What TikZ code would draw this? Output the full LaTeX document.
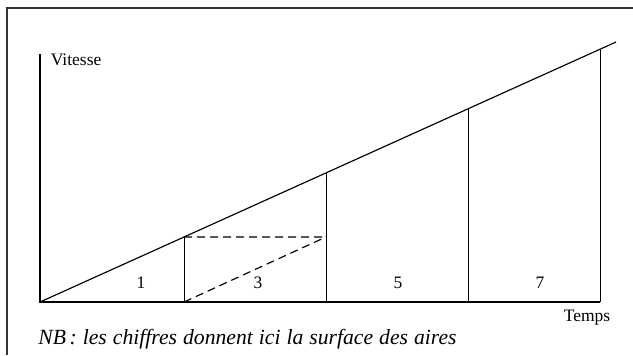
\documentclass[tikz,border=0pt]{standalone}
\usepackage{fontspec}
\setmainfont{Liberation Serif}
\usetikzlibrary{calc}

\begin{document}
\begin{tikzpicture}[x=0.6pt,y=-0.6pt,font=\fontsize{10.5}{12}\selectfont]
\useasboundingbox (0,0) rectangle (633,355);
\draw[line width=1pt,black!80] (7,355)--(7,8)--(633,8);
\coordinate (O) at (40,302); \coordinate (Y) at (40,54); \coordinate (E) at (616,42);
\coordinate (T1) at (184,302); \coordinate (T2) at (326,302); \coordinate (T3) at (468,302); \coordinate (T4) at (600,302);
\coordinate (V1) at (184,237); \coordinate (V2) at (326,173); \coordinate (V3) at (468,109); \coordinate (V4) at (600,50);
\draw[line width=0.7pt] (Y)--(O)--(T4);
\draw[line width=0.7pt] (O)--(E);
\foreach \i in {1,...,4} \draw[line width=0.6pt] (T\i)--(V\i);
\draw[line width=0.7pt,dash pattern=on 4.8pt off 3pt] (V1)--(V1-|T2) (T1)--(V1-|T2);
\node (vitesse) [anchor=west] at (45,60) {Vitesse};
\node (temps) at (587,318) {Temps};
\node (a1) at (141,283) {1}; \node (a3) at (258,283) {3};
\node (a5) at (398,283) {5}; \node (a7) at (540,283) {7};
\node (nb) [anchor=west,inner sep=0pt,font=\fontsize{13}{15}\selectfont\itshape] at (38,339) {\spaceskip=3.6pt\relax NB\,: les chiffres donnent ici la surface des aires};
\end{tikzpicture}
\end{document}
